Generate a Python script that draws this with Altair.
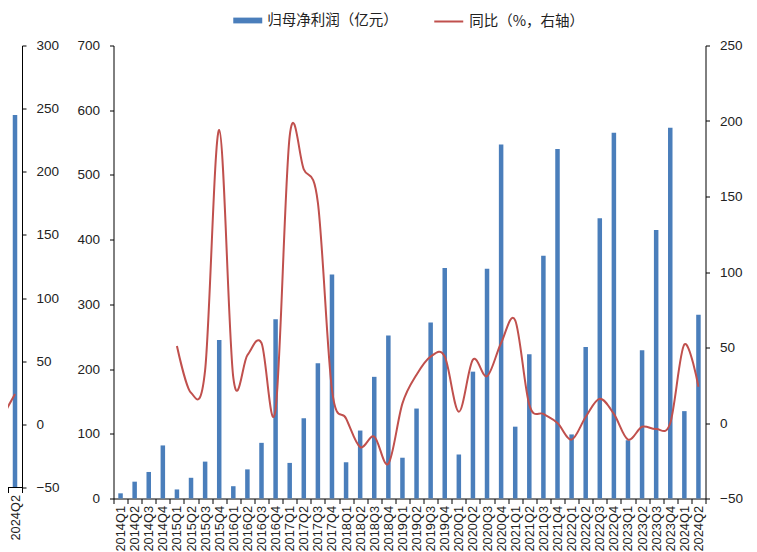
import altair as alt
import pandas as pd

quarters = [
    "2014Q1", "2014Q2", "2014Q3", "2014Q4",
    "2015Q1", "2015Q2", "2015Q3", "2015Q4",
    "2016Q1", "2016Q2", "2016Q3", "2016Q4",
    "2017Q1", "2017Q2", "2017Q3", "2017Q4",
    "2018Q1", "2018Q2", "2018Q3", "2018Q4",
    "2019Q1", "2019Q2", "2019Q3", "2019Q4",
    "2020Q1", "2020Q2", "2020Q3", "2020Q4",
    "2021Q1", "2021Q2", "2021Q3", "2021Q4",
    "2022Q1", "2022Q2", "2022Q3", "2022Q4",
    "2023Q1", "2023Q2", "2023Q3", "2023Q4",
    "2024Q1", "2024Q2",
]
profit = [
    8, 26, 41, 82,
    14, 32, 57, 245,
    19, 45, 86, 277,
    55, 124, 209, 346,
    56, 105, 188, 252,
    63, 139, 272, 356,
    68, 196, 355, 547,
    111, 223, 375, 540,
    99, 234, 433, 565,
    90, 229, 415, 573,
    135, 284,
]
yoy = [
    None, None, None, None,
    51, 20, 35, 194,
    30, 45, 53, 9,
    190, 168, 146, 22,
    3, -16, -9, -27,
    13, 32, 44, 44,
    7.5, 42, 31, 53,
    68, 12, 6, 0,
    -11, 4, 16, 6,
    -11, -2.5, -4, 0,
    52, 24,
]

# cropped neighbouring chart on the left edge
frag_quarters = ["2024Q1", "2024Q2"]
frag_profit = [259, 295]
frag_yoy = [4, 24]

left_ticks = [0, 100, 200, 300, 400, 500, 600, 700]
right_ticks = [-50, 0, 50, 100, 150, 200, 250]
frag_ticks = [-50, 0, 50, 100, 150, 200, 250, 300]

S1 = "归母净利润（亿元）"
S2 = "同比（%，右轴）"
BLUE = "#4A7EBB"
RED = "#C0504D"
NUM_FONT = "Liberation Sans"
CJK_FONT = "Noto Sans CJK SC"

main_df = pd.DataFrame({"quarter": quarters, "profit": profit, "yoy": yoy})
main_df["s1"] = S1
main_df["s2"] = S2
frag_df = pd.DataFrame({"quarter": frag_quarters, "profit": frag_profit, "yoy": frag_yoy})
frag_df["s1"] = S1
frag_df["s2"] = S2

color_enc = alt.Color(
    "s1:N",
    scale=alt.Scale(domain=[S1], range=[BLUE]),
    legend=alt.Legend(
        title=None, orient="none", legendX=232.25, legendY=-32.5,
        symbolType="M-2,-0.4H2V0.4H-2Z", symbolSize=210, symbolStrokeWidth=0,
        labelOffset=12, labelFont=CJK_FONT, labelFontSize=14.5, labelColor="#222",
        padding=0, labelLimit=300,
    ),
)
stroke_enc = alt.Stroke(
    "s2:N",
    scale=alt.Scale(domain=[S2], range=[RED]),
    legend=alt.Legend(
        title=None, orient="none", legendX=432.25, legendY=-32.5,
        symbolType="M-2,0H2", symbolSize=210, symbolStrokeWidth=2,
        labelOffset=12, labelFont=CJK_FONT, labelFontSize=14.5, labelColor="#222",
        padding=0, labelLimit=300,
    ),
)

x_axis = alt.Axis(
    title=None, labelAngle=-90, tickBand="extent", labelPadding=2, tickSize=5,
    labelFontSize=12.8,
)
x_main = alt.X(
    "quarter:N", sort=quarters,
    scale=alt.Scale(domain=quarters, paddingInner=0, paddingOuter=0),
    axis=x_axis,
)

bars = alt.Chart(main_df).mark_bar(size=4.5).encode(
    x=x_main,
    y=alt.Y("profit:Q", scale=alt.Scale(domain=[0, 700], nice=False),
            axis=alt.Axis(title=None, orient="left", values=left_ticks)),
    color=color_enc,
)
line = alt.Chart(main_df).mark_line(strokeWidth=2, interpolate="cardinal").encode(
    x=x_main,
    y=alt.Y("yoy:Q", scale=alt.Scale(domain=[-50, 250], nice=False),
            axis=alt.Axis(title=None, orient="right", values=right_ticks)),
    stroke=stroke_enc,
)
main = alt.layer(bars, line).resolve_scale(y="independent").properties(width=592, height=453)

x_frag = alt.X(
    "quarter:N", sort=frag_quarters,
    scale=alt.Scale(domain=frag_quarters, range=[-14, 14], paddingInner=0, paddingOuter=0),
    axis=alt.Axis(title=None, labelAngle=-90, tickBand="extent", tickExtra=False,
                  labelPadding=2, tickSize=5, labelFontSize=12.8,
                  values=["2024Q2"], domain=False),
)
frag_bars = alt.Chart(frag_df).mark_bar(size=4.5, clip=True).encode(
    x=x_frag,
    y=alt.Y("profit:Q", scale=alt.Scale(domain=[0, 350], nice=False), axis=None),
    color=color_enc,
)
frag_line = alt.Chart(frag_df).mark_line(strokeWidth=2, clip=True).encode(
    x=x_frag,
    y=alt.Y("yoy:Q", scale=alt.Scale(domain=[-50, 300], nice=False),
            axis=alt.Axis(title=None, orient="right", values=frag_ticks)),
    stroke=stroke_enc,
)
frag_rule = alt.Chart(frag_df).mark_rule(color="#000", strokeWidth=1).encode(
    y=alt.YDatum(0, scale=alt.Scale(domain=[0, 350], nice=False), axis=None),
)
frag = alt.layer(frag_bars, frag_line, frag_rule).resolve_scale(y="independent").properties(
    width=14, height=442
)

chart = alt.hconcat(frag, main, spacing=17.5).properties(
    padding={"left": -6, "top": 4.5, "right": 0, "bottom": 0}
).configure_view(stroke=None).configure_axis(
    domainColor="#000", tickColor="#000", labelColor="#222", labelFont=NUM_FONT,
    labelFontSize=13.5, tickSize=4, labelPadding=10, grid=False, domainWidth=1, tickWidth=1,
)

chart.save("out.html", embed_options={"renderer": "svg", "actions": False})
